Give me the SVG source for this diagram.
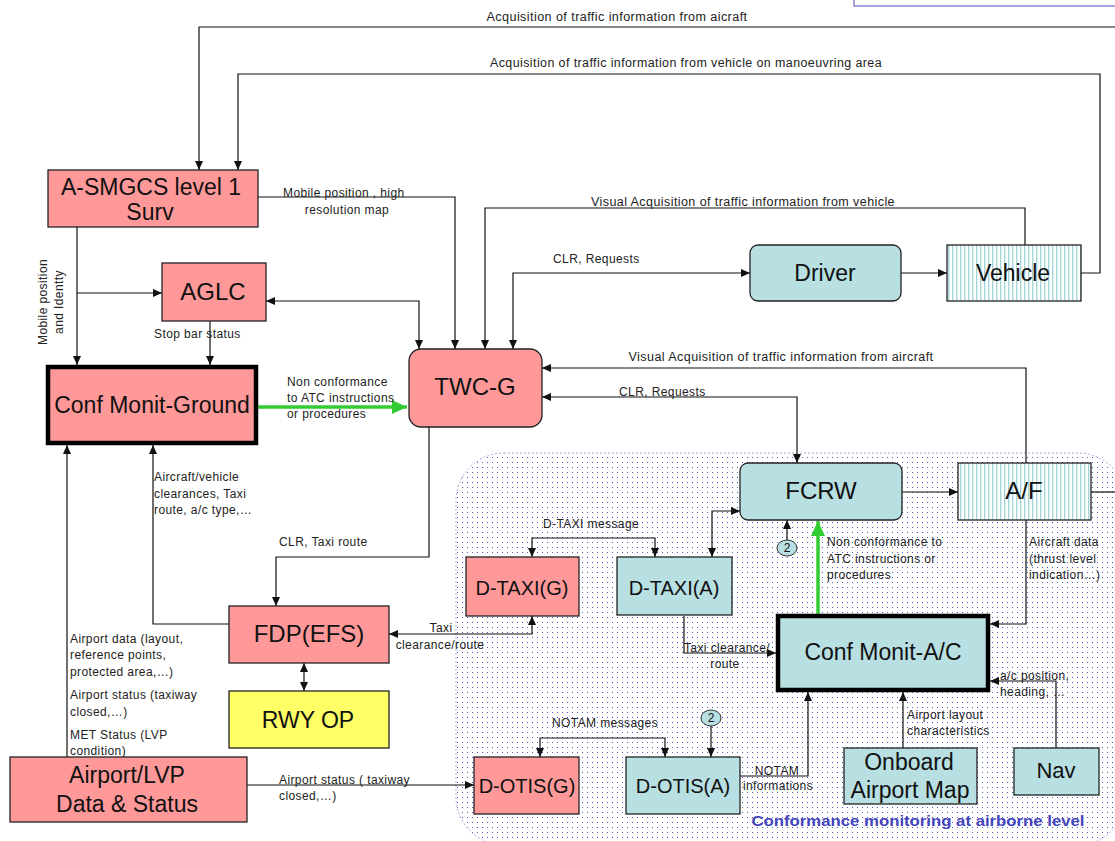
<svg xmlns="http://www.w3.org/2000/svg" width="1115" height="841" viewBox="0 0 1115 841">
<style>
.n{stroke:#222;stroke-width:1.3}
.pk{fill:#ff9999}
.tl{fill:#b8dfe1}
.yl{fill:#ffff66}
.st{fill:url(#stripes)}
.thick{stroke:#000;stroke-width:4.5}
.nt{font-family:"Liberation Sans",Arial,sans-serif;fill:#111;text-anchor:middle}
.lb{font-family:"Liberation Sans",Arial,sans-serif;font-size:12px;letter-spacing:0.4px;fill:#222}
.c{fill:none;stroke:#111;stroke-width:1.2}
.g{fill:none;stroke:#33cc33;stroke-width:3.5}
</style>
<defs>
<pattern id="stripes" width="4" height="10" patternUnits="userSpaceOnUse">
<rect width="4" height="10" fill="#ffffff"/>
<rect x="0" width="1.4" height="10" fill="#a6d6da"/>
</pattern>
<pattern id="dots" width="5" height="5" patternUnits="userSpaceOnUse">
<rect width="5" height="5" fill="#ffffff"/>
<rect x="2" y="2" width="1" height="1" fill="#5555c0"/>
</pattern>
<marker id="a" markerWidth="9" markerHeight="8" refX="9" refY="4" orient="auto-start-reverse" markerUnits="userSpaceOnUse">
<path d="M0,0 L9,4 L0,8 Z" fill="#111"/>
</marker>
<marker id="ag" markerWidth="15" markerHeight="14" refX="15" refY="7" orient="auto" markerUnits="userSpaceOnUse">
<path d="M0,0 L15,7 L0,14 Z" fill="#33cc33"/>
</marker>
</defs>
<rect width="1115" height="841" fill="#ffffff"/>

<rect x="854" y="-10" width="270" height="16" fill="#ffffff" stroke="#7777cc" stroke-width="1.3"/>

<g id="region">
<rect x="456" y="453" width="670" height="392" rx="48" fill="url(#dots)" stroke="#aaaadd" stroke-width="1" stroke-dasharray="2,2"/>
<text x="918" y="826" font-family="Liberation Sans,Arial,sans-serif" font-size="14" font-weight="bold" fill="#4444bb" text-anchor="middle" textLength="333" lengthAdjust="spacingAndGlyphs">Conformance monitoring at airborne level</text>
</g>

<g id="connectors">
<path class="c" d="M1115,27 H199 V170" stroke="#777" stroke-width="1.5" marker-end="url(#a)"/>
<path class="c" d="M1081,273 H1100 V74 H238 V170" marker-end="url(#a)"/>
<path class="c" d="M258,197 H455 V349" marker-end="url(#a)"/>
<path class="c" d="M1025,245 V208 H485 V349" marker-end="url(#a)"/>
<path class="c" d="M750,273 H513 V349" marker-start="url(#a)" marker-end="url(#a)"/>
<path class="c" d="M901,273 H947" marker-end="url(#a)"/>
<path class="c" d="M266,301 H419 V349" marker-start="url(#a)" marker-end="url(#a)"/>
<path class="c" d="M77,227 V365" marker-end="url(#a)"/>
<path class="c" d="M77,293 H162" marker-end="url(#a)"/>
<path class="c" d="M210,321 V365" marker-end="url(#a)"/>
<path class="g" d="M258,407 H407" marker-end="url(#ag)"/>
<path class="c" d="M429,427 V557 H276 V606" marker-end="url(#a)"/>
<path class="c" d="M229,624 H153 V445" marker-end="url(#a)"/>
<path class="c" d="M67,757 V445" marker-end="url(#a)"/>
<path class="c" d="M304,663 V691" marker-start="url(#a)" marker-end="url(#a)"/>
<path class="c" d="M389,634 H532 V616" marker-start="url(#a)" marker-end="url(#a)"/>
<path class="c" d="M247,785 H474" marker-end="url(#a)"/>
<path class="c" d="M532,557 V538 H655 V557" marker-start="url(#a)" marker-end="url(#a)"/>
<path class="c" d="M712,557 V511 H740" marker-start="url(#a)" marker-end="url(#a)"/>
<path class="c" d="M684,616 V653 H776" marker-end="url(#a)"/>
<path class="c" d="M902,492 H958" marker-end="url(#a)"/>
<path class="c" d="M1091,492 H1115"/>
<path class="c" d="M542,397 H797 V463" marker-start="url(#a)" marker-end="url(#a)"/>
<path class="c" d="M1026,463 V368 H542" stroke="#555" marker-end="url(#a)"/>
<path class="c" d="M787,540 V520" marker-end="url(#a)"/>
<path class="g" d="M818,614 V521" marker-end="url(#ag)"/>
<path class="c" d="M1026,520 V624 H990" stroke="#555" marker-end="url(#a)"/>
<path class="c" d="M1056,748 V681 H990" marker-end="url(#a)"/>
<path class="c" d="M903,748 V692" marker-end="url(#a)"/>
<path class="c" d="M740,776 H808 V692" marker-end="url(#a)"/>
<path class="c" d="M540,757 V738 H665 V757" marker-start="url(#a)" marker-end="url(#a)"/>
<path class="c" d="M711,726 V757" marker-end="url(#a)"/>
</g>

<g id="labels">
<text class="lb" x="617" y="21" text-anchor="middle" textLength="261" lengthAdjust="spacingAndGlyphs">Acquisition of traffic information from aicraft</text>
<text class="lb" x="686" y="67" text-anchor="middle" textLength="392" lengthAdjust="spacingAndGlyphs">Acquisition of traffic information from vehicle on manoeuvring area</text>
<text class="lb" x="283" y="197">Mobile position ,  high</text>
<text class="lb" x="347" y="214" text-anchor="middle">resolution map</text>
<text class="lb" x="743" y="206" text-anchor="middle" textLength="304" lengthAdjust="spacingAndGlyphs">Visual Acquisition of traffic information from vehicle</text>
<text class="lb" x="553" y="263">CLR, Requests</text>
<text class="lb" transform="translate(47,302) rotate(-90)" text-anchor="middle">Mobile position</text>
<text class="lb" transform="translate(63,302) rotate(-90)" text-anchor="middle">and Identty</text>
<text class="lb" x="154" y="338">Stop bar status</text>
<text class="lb" x="287" y="386">Non  conformance</text>
<text class="lb" x="287" y="402">to ATC instructions</text>
<text class="lb" x="287" y="418">or procedures</text>
<text class="lb" x="781" y="361" text-anchor="middle" textLength="305" lengthAdjust="spacingAndGlyphs">Visual Acquisition of traffic information from aircraft</text>
<text class="lb" x="619" y="396">CLR, Requests</text>
<text class="lb" x="154" y="481">Aircraft/vehicle</text>
<text class="lb" x="154" y="498">clearances, Taxi</text>
<text class="lb" x="154" y="514">route, a/c type,…</text>
<text class="lb" x="279" y="546">CLR,  Taxi route</text>
<text class="lb" x="543" y="528">D-TAXI message</text>
<text class="lb" x="827" y="546">Non  conformance to</text>
<text class="lb" x="827" y="563">ATC instructions or</text>
<text class="lb" x="827" y="579">procedures</text>
<text class="lb" x="1029" y="546">Aircraft data</text>
<text class="lb" x="1029" y="563">(thrust level</text>
<text class="lb" x="1029" y="579">indication…)</text>
<text class="lb" x="441" y="632" text-anchor="middle">Taxi</text>
<text class="lb" x="440" y="649" text-anchor="middle">clearance/route</text>
<text class="lb" x="70" y="643">Airport data (layout,</text>
<text class="lb" x="70" y="659">reference points,</text>
<text class="lb" x="70" y="676">protected area,…)</text>
<text class="lb" x="70" y="699">Airport status (taxiway</text>
<text class="lb" x="70" y="716">closed,…)</text>
<text class="lb" x="70" y="739">MET  Status (LVP</text>
<text class="lb" x="70" y="755">condition)</text>
<text class="lb" x="727" y="652" text-anchor="middle">Taxi clearance/</text>
<text class="lb" x="725" y="668" text-anchor="middle">route</text>
<text class="lb" x="1000" y="680">a/c position,</text>
<text class="lb" x="1000" y="696">heading, …</text>
<text class="lb" x="907" y="719">Airport layout</text>
<text class="lb" x="907" y="735">characteristics</text>
<text class="lb" x="552" y="727">NOTAM  messages</text>
<text class="lb" x="777" y="775" text-anchor="middle">NOTAM</text>
<text class="lb" x="778" y="790" text-anchor="middle">informations</text>
<text class="lb" x="279" y="784">Airport status ( taxiway</text>
<text class="lb" x="279" y="800">closed,…)</text>
</g>

<g id="n-asmgcs"><rect class="n pk" x="48" y="170" width="210" height="57"/><text class="nt" x="151" y="195" font-size="23">A-SMGCS level 1</text><text class="nt" x="150" y="220" font-size="23">Surv</text></g>
<g id="n-aglc"><rect class="n pk" x="162" y="263" width="104" height="58"/><text class="nt" x="213" y="300" font-size="24">AGLC</text></g>
<g id="n-cmg"><rect class="pk thick" x="48" y="367" width="208" height="76"/><text class="nt" x="152" y="413" font-size="23">Conf Monit-Ground</text></g>
<g id="n-twcg"><rect class="n pk" x="409" y="349" width="133" height="78" rx="12"/><text class="nt" x="475" y="395" font-size="24">TWC-G</text></g>
<g id="n-driver"><rect class="n tl" x="750" y="245" width="151" height="56" rx="8"/><text class="nt" x="825" y="281" font-size="23">Driver</text></g>
<g id="n-vehicle"><rect class="n st" x="947" y="245" width="134" height="56"/><text class="nt" x="1013" y="281" font-size="23">Vehicle</text></g>
<g id="n-fcrw"><rect class="n tl" x="740" y="463" width="162" height="57" rx="8"/><text class="nt" x="821" y="499" font-size="24">FCRW</text></g>
<g id="n-af"><rect class="n st" x="958" y="463" width="133" height="57"/><text class="nt" x="1024" y="499" font-size="24">A/F</text></g>
<g id="n-dtaxig"><rect class="n pk" x="466" y="557" width="113" height="59"/><text class="nt" x="522" y="595" font-size="20">D-TAXI(G)</text></g>
<g id="n-dtaxia"><rect class="n tl" x="617" y="557" width="115" height="58"/><text class="nt" x="674" y="595" font-size="20">D-TAXI(A)</text></g>
<g id="n-cmac"><rect class="tl thick" x="778" y="616" width="210" height="74"/><text class="nt" x="883" y="660" font-size="23">Conf Monit-A/C</text></g>
<g id="n-fdp"><rect class="n pk" x="229" y="606" width="160" height="57"/><text class="nt" x="309" y="642" font-size="24">FDP(EFS)</text></g>
<g id="n-rwyop"><rect class="n yl" x="229" y="691" width="160" height="57"/><text class="nt" x="308" y="728" font-size="23">RWY OP</text></g>
<g id="n-airport"><rect class="n pk" x="10" y="757" width="237" height="65"/><text class="nt" x="127" y="783" font-size="23">Airport/LVP</text><text class="nt" x="127" y="812" font-size="23">Data &amp; Status</text></g>
<g id="n-dotisg"><rect class="n pk" x="474" y="757" width="105" height="57"/><text class="nt" x="527" y="793" font-size="20">D-OTIS(G)</text></g>
<g id="n-dotisa"><rect class="n tl" x="626" y="757" width="114" height="57"/><text class="nt" x="683" y="793" font-size="20">D-OTIS(A)</text></g>
<g id="n-map"><rect class="n tl" x="844" y="748" width="133" height="56"/><text class="nt" x="909" y="770" font-size="23">Onboard</text><text class="nt" x="910" y="798" font-size="23">Airport Map</text></g>
<g id="n-nav"><rect class="n tl" x="1014" y="748" width="85" height="47"/><text class="nt" x="1056" y="778" font-size="22">Nav</text></g>
<g id="n-c1"><ellipse cx="787" cy="548" rx="10" ry="8" fill="#b8dfe1" stroke="#333" stroke-width="1"/><text class="nt" x="787" y="552" font-size="12">2</text></g>
<g id="n-c2"><ellipse cx="711" cy="718" rx="10" ry="8" fill="#b8dfe1" stroke="#333" stroke-width="1"/><text class="nt" x="711" y="722" font-size="12">2</text></g>
</svg>
